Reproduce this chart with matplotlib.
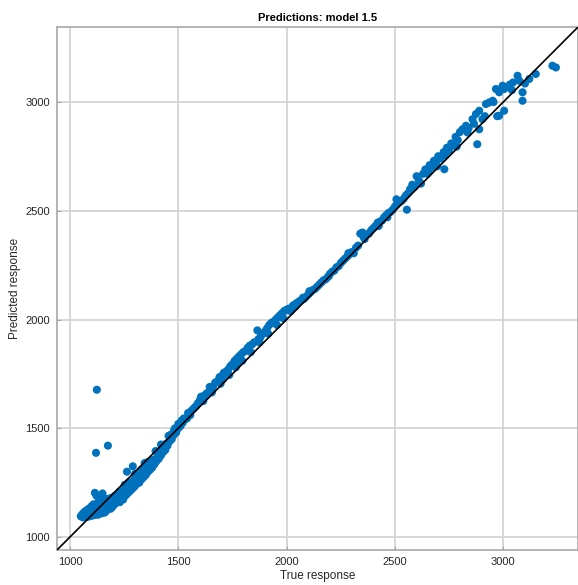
import matplotlib
matplotlib.use("Agg")
import matplotlib.pyplot as plt

plt.rcParams['font.family'] = ['Liberation Sans', 'DejaVu Sans']

# истинные и предсказанные значения
true_resp = [
    1050, 1055, 1060, 1062, 1068, 1070, 1075, 1078, 1080, 1083, 1085, 1088, 1090, 1092, 1095, 1098,
    1100, 1102, 1105, 1108, 1110, 1112, 1115, 1118, 1120, 1122, 1125, 1128, 1130, 1132, 1135, 1138,
    1140, 1143, 1145, 1148, 1150, 1152, 1155, 1158, 1160, 1163, 1165, 1168, 1170, 1172, 1175, 1178,
    1180, 1183, 1185, 1188, 1190, 1193, 1195, 1198, 1200, 1203, 1205, 1208, 1210, 1213, 1215, 1218,
    1220, 1223, 1225, 1228, 1230, 1233, 1235, 1238, 1240, 1243, 1245, 1248, 1250, 1253, 1255, 1258,
    1260, 1263, 1265, 1268, 1270, 1273, 1275, 1278, 1280, 1283, 1285, 1288, 1290, 1293, 1295, 1298,
    1300, 1305, 1310, 1315, 1320, 1325, 1330, 1335, 1340, 1345, 1350, 1355, 1360, 1365, 1370, 1375,
    1380, 1385, 1390, 1395, 1400, 1405, 1410, 1415, 1420, 1425, 1430, 1435, 1440, 1445, 1450, 1460,
    1465, 1470, 1480, 1485, 1490, 1500, 1510, 1515, 1520, 1530, 1540, 1545, 1555, 1560, 1290, 1263,
    1115, 1124, 1120, 1175, 1330, 1360, 1395, 1420, 1455, 1480, 1230, 1270, 1300, 1345, 1500, 1525,
    1570, 1580, 1590, 1600, 1605, 1610, 1620, 1630, 1640, 1645, 1650, 1660, 1670, 1680, 1690, 1700,
    1705, 1710, 1720, 1730, 1740, 1750, 1760, 1770, 1775, 1780, 1790, 1800, 1810, 1820, 1830, 1840,
    1850, 1865, 1870, 1880, 1890, 1900, 1910, 1920, 1930, 1940, 1950, 1960, 1970, 1980, 1990, 2000,
    1615, 1655, 1695, 1735, 1765, 1795, 1835, 1875, 1915, 1955, 1985, 2015, 2045, 2075,
    2010, 2020, 2030, 2040, 2050, 2060, 2070, 2080, 2090, 2100, 2110, 2120, 2130, 2140, 2150, 2160,
    2170, 2180, 2190, 2200, 2210, 2220, 2230, 2240, 2250, 2260, 2270, 2280, 2290, 2300, 2310, 2320,
    2330, 2340, 2350, 2355, 2360, 2370, 2380, 2390, 2400, 2410, 2420, 2430, 2440, 2450, 2460, 2470,
    2480, 2490, 2500, 2510, 2507, 2520, 2530, 2540, 2550, 2555, 2560, 2105, 2195, 2285, 2425, 2465,
    2570, 2580, 2590, 2600, 2610, 2620, 2630, 2640, 2650, 2660, 2670, 2680, 2690, 2700, 2710, 2728,
    2725, 2730, 2740, 2750, 2760, 2770, 2780, 2790, 2800, 2812, 2828, 2840, 2858, 2874, 2880, 2889,
    2889, 2904, 2920, 2935, 2951, 2966, 2981, 2981, 2997, 3004, 3004, 2972, 3020, 3030, 3045, 3066,
    3074, 3089, 3089, 3120, 3150, 3227, 3243, 2615, 2655, 2695, 2745, 2785, 2835, 2865, 2915, 2955,
    3040, 3100,
]
pred_resp = [
    1095, 1102, 1090, 1110, 1098, 1118, 1105, 1092, 1125, 1110, 1100, 1130, 1095, 1115, 1105, 1140,
    1098, 1120, 1110, 1150, 1100, 1125, 1108, 1135, 1112, 1190, 1118, 1102, 1160, 1125, 1112, 1140,
    1120, 1180, 1108, 1130, 1200, 1118, 1145, 1125, 1112, 1160, 1135, 1120, 1175, 1140, 1128, 1150,
    1135, 1165, 1142, 1130, 1180, 1150, 1138, 1170, 1145, 1160, 1150, 1190, 1155, 1170, 1160, 1185,
    1165, 1200, 1170, 1180, 1160, 1195, 1175, 1210, 1180, 1190, 1172, 1205, 1185, 1240, 1190, 1210,
    1195, 1225, 1200, 1215, 1205, 1235, 1210, 1225, 1215, 1250, 1220, 1235, 1225, 1260, 1230, 1245,
    1235, 1270, 1245, 1260, 1250, 1285, 1265, 1300, 1275, 1290, 1285, 1315, 1300, 1330, 1310, 1320,
    1320, 1355, 1335, 1345, 1350, 1375, 1360, 1390, 1375, 1400, 1390, 1410, 1400, 1430, 1420, 1440,
    1470, 1450, 1470, 1500, 1480, 1500, 1510, 1535, 1525, 1540, 1545, 1570, 1560, 1580, 1325, 1300,
    1203, 1677, 1387, 1420, 1310, 1345, 1395, 1425, 1465, 1490, 1210, 1250, 1290, 1340, 1520, 1545,
    1590, 1600, 1615, 1630, 1645, 1625, 1650, 1660, 1665, 1690, 1680, 1690, 1710, 1715, 1735, 1740,
    1725, 1755, 1760, 1770, 1785, 1795, 1810, 1820, 1800, 1830, 1840, 1850, 1855, 1870, 1880, 1885,
    1895, 1950, 1910, 1920, 1935, 1945, 1960, 1975, 1985, 1990, 2000, 2010, 2020, 2030, 2040, 2045,
    1625, 1665, 1705, 1745, 1780, 1810, 1850, 1895, 1935, 1975, 2005, 2040, 2075, 2100,
    2050, 2040, 2065, 2060, 2075, 2085, 2090, 2095, 2105, 2115, 2125, 2135, 2140, 2150, 2160, 2170,
    2180, 2185, 2195, 2210, 2220, 2225, 2240, 2245, 2260, 2270, 2280, 2290, 2300, 2310, 2305, 2330,
    2340, 2395, 2400, 2380, 2370, 2390, 2395, 2410, 2420, 2430, 2445, 2450, 2455, 2470, 2480, 2490,
    2495, 2505, 2520, 2530, 2553, 2540, 2545, 2555, 2570, 2505, 2580, 2130, 2200, 2305, 2430, 2470,
    2600, 2620, 2610, 2659, 2640, 2625, 2670, 2690, 2670, 2710, 2700, 2730, 2715, 2751, 2740, 2691,
    2770, 2755, 2790, 2780, 2810, 2800, 2840, 2825, 2862, 2875, 2891, 2880, 2921, 2945, 2806, 2960,
    2875, 2921, 2991, 2998, 3006, 3060, 3045, 2937, 3075, 3060, 2960, 2935, 3070, 3080, 3090, 3121,
    3098, 3045, 3006, 3106, 3129, 3167, 3159, 2630, 2680, 2705, 2775, 2795, 2860, 2900, 2935, 3000,
    3055, 3085,
]

lims = [940, 3345]

fig = plt.figure(figsize=(5.78, 5.85), dpi=100)
ax = fig.add_axes([0.0986, 0.0598, 0.9014, 0.894])

ax.scatter(true_resp, pred_resp, s=34, color='#0072BD', edgecolors='none', zorder=2)
ax.plot(lims, lims, color='black', lw=1.2, zorder=3)

ax.set_xlim(lims)
ax.set_ylim(lims)
ax.set_xticks([1000, 1500, 2000, 2500, 3000])
ax.set_yticks([1000, 1500, 2000, 2500, 3000])
ax.grid(True, color='#d4d4d4', lw=1.3, zorder=0)
ax.set_axisbelow(True)
for s in ax.spines.values():
    s.set_color('#a8a8a8')
    s.set_linewidth(1.2)
ax.tick_params(direction='in', length=3, width=0.8, color='#a8a8a8',
               labelsize=8, labelcolor='#262626', pad=5)

ax.set_title('Predictions: model 1.5', fontsize=8, fontweight='bold', pad=4)
ax.set_xlabel('True response', fontsize=8.5, color='#262626', labelpad=2)
ax.set_ylabel('Predicted response', fontsize=8.5, color='#262626', labelpad=3)

fig.savefig('out.png', dpi=100)
